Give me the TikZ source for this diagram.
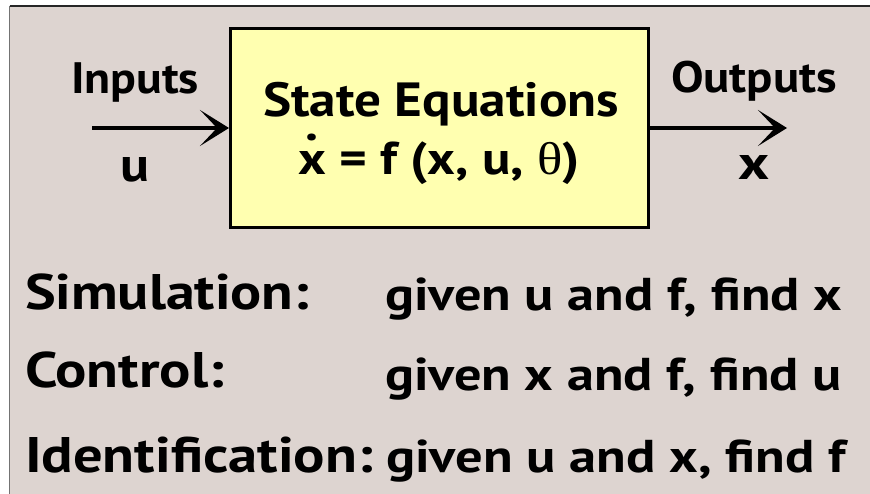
\documentclass[tikz,border=0pt]{standalone}
\usepackage{fontspec}
\setmainfont{PT Sans}
\newfontfamily\thetafont{Liberation Serif}
\usepackage{graphicx}
\usetikzlibrary{arrows.meta}
\definecolor{bg}{RGB}{221,212,208}
\definecolor{boxfill}{RGB}{255,255,176}
\newcommand\fitw[2]{\resizebox{#1}{\height}{#2}}
\newcommand\xdotted{{\ooalign{x\cr\hidewidth\raisebox{0.76em}{.}\hidewidth\cr}}}
\begin{document}
\begin{tikzpicture}[x=1pt,y=-1pt,
  txt/.style={inner sep=0pt, outer sep=0pt, anchor=base west},
  big/.style={txt, font=\bfseries\fontsize{50}{52}\selectfont},
  mid/.style={txt, font=\bfseries\fontsize{46}{48}\selectfont},
  lab/.style={txt, font=\bfseries\fontsize{44}{46}\selectfont},
  arr/.style={line width=4pt, -{Stealth[length=29pt,width=36pt,inset=17pt]}},
  blk/.style={draw, line width=3pt, fill=boxfill, minimum width=418pt, minimum height=199pt, inner sep=0pt}]
\useasboundingbox (0,0) rectangle (870,494);
\fill[white] (0,0) rectangle (870,494);
\fill[bg] (9.5,6) rectangle (870,494);
\draw[line width=1.5pt, black!55] (9.5,494) -- (9.5,6);
\draw[line width=2pt, black!85] (9.5,6) -- (870,6);
% block
\node[blk] (box) at (439.5,128) {};
\node[mid, font=\bfseries\fontsize{48}{50}\selectfont] (title) at (263,117) {\fitw{356pt}{State Equations}};
\node[mid] (eq) at (298,175) {\fitw{282pt}{\xdotted{} = f (x, u, {\thetafont\mdseries θ})}};
% connectors
\coordinate (inS) at (92,128);
\coordinate (outE) at (787,128);
\draw[arr] (inS) -- (box.west);
\draw[arr] (box.east) -- (outE);
% labels
\node[lab] (inputs) at (71,94) {\fitw{128pt}{Inputs}};
\node[mid, font=\bfseries\fontsize{48}{50}\selectfont] (ulab) at (120,182) {\fitw{29pt}{u}};
\node[lab] (outputs) at (671,93) {\fitw{166pt}{Outputs}};
\node[mid, font=\bfseries\fontsize{48}{50}\selectfont] (xlab) at (738,180) {\fitw{31pt}{x}};
% rows
\node[big] (sim) at (25,310) {\fitw{284pt}{Simulation:}};
\node[mid] (gsim) at (385,310) {\fitw{457pt}{given u and f, find x}};
\node[big] (ctrl) at (25,388) {\fitw{199pt}{Control:}};
\node[mid] (gctrl) at (385,390) {\fitw{457pt}{given x and f, find u}};
\node[big] (ident) at (25,472) {\fitw{348pt}{Identification:}};
\node[mid] (gident) at (386,472) {\fitw{460pt}{given u and x, find f}};
\end{tikzpicture}
\end{document}
